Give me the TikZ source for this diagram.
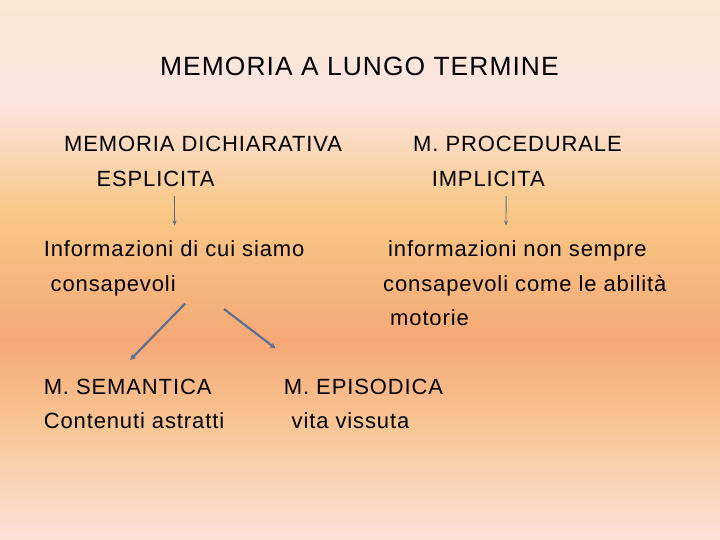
\documentclass[tikz,border=0pt]{standalone}
\usepackage{fontspec}
\setmainfont[LetterSpace=4]{Liberation Sans}
\usepackage{tikz}
\usetikzlibrary{arrows.meta}
\definecolor{bgcream}{HTML}{FAE9D3}
\definecolor{bgpink}{HTML}{FCE4E2}
\definecolor{bgorange}{HTML}{F8C886}
\definecolor{bgsalmon}{HTML}{F6A977}
\definecolor{bgpeach}{HTML}{F8C796}
\definecolor{bglight}{HTML}{FCE1DA}
\definecolor{arrowblue}{HTML}{5C7091}
\tikzstyle{ttl}=[%
      inner sep=0pt, anchor=base west, font=\fontsize{26.4}{30}\selectfont
]
\tikzstyle{tx}=[%
      inner sep=0pt, anchor=base west, font=\fontsize{22}{26}\selectfont
]
\tikzstyle{thinarr}=[%
      draw=arrowblue, line width=0.9pt, -{Stealth[length=5pt,width=4pt]}
]
\tikzstyle{thickarr}=[%
      draw=arrowblue, line width=2.2pt, -{Stealth[length=6pt,width=6pt]}
]
\begin{document}
\begin{tikzpicture}[x=1pt, y=-1pt]
    % background
    \shade[top color=bgcream, bottom color=bgpink] (0,0) rectangle (720,100);
    \shade[top color=bgpink, bottom color=bgorange] (0,100) rectangle (720,210);
    \shade[top color=bgorange, bottom color=bgsalmon] (0,210) rectangle (720,340);
    \shade[top color=bgsalmon, bottom color=bgpeach] (0,340) rectangle (720,430);
    \shade[top color=bgpeach, bottom color=bglight] (0,430) rectangle (720,540);
    \useasboundingbox (0,0) rectangle (720,540);

    \node[ttl] (title) at (160,76) {MEMORIA A LUNGO TERMINE};

    \node[tx] (dich) at (64,152)    {MEMORIA DICHIARATIVA};
    \node[tx] (espl) at (96.4,186.6) {ESPLICITA};
    \node[tx] (proc) at (413,152)   {M. PROCEDURALE};
    \node[tx] (impl) at (431.6,186.6) {IMPLICITA};

    \node[tx] (infoA) at (43.6,256.5) {Informazioni di cui siamo};
    \node[tx] (consA) at (50.5,291)   {consapevoli};
    \node[tx] (infoB) at (388,256.5)  {informazioni non sempre};
    \node[tx] (consB) at (383,291)    {consapevoli come le abilità};
    \node[tx] (mot)   at (390,325.5)  {motorie};

    \node[tx] (sem)  at (43.6,394)  {M. SEMANTICA};
    \node[tx] (cont) at (43.6,428.5) {Contenuti astratti};
    \node[tx] (epi)  at (283.7,394) {M. EPISODICA};
    \node[tx] (vita) at (291.5,428.5) {vita vissuta};

    \draw[thinarr] ([xshift=78pt,yshift=-9.5pt]espl.base west) -- ([xshift=131pt,yshift=31pt]infoA.base west);
    \draw[thinarr] ([xshift=74.5pt,yshift=-9.5pt]impl.base west) -- ([xshift=118pt,yshift=31pt]infoB.base west);
    \draw[thickarr] ([xshift=134.5pt,yshift=-12.7pt]consA.base west) -- ([xshift=86.5pt,yshift=34pt]sem.base west);
    \draw[thickarr] ([xshift=173.5pt,yshift=-18pt]consA.base west) -- ([xshift=-8pt,yshift=45.5pt]epi.base west);
\end{tikzpicture}
\end{document}
